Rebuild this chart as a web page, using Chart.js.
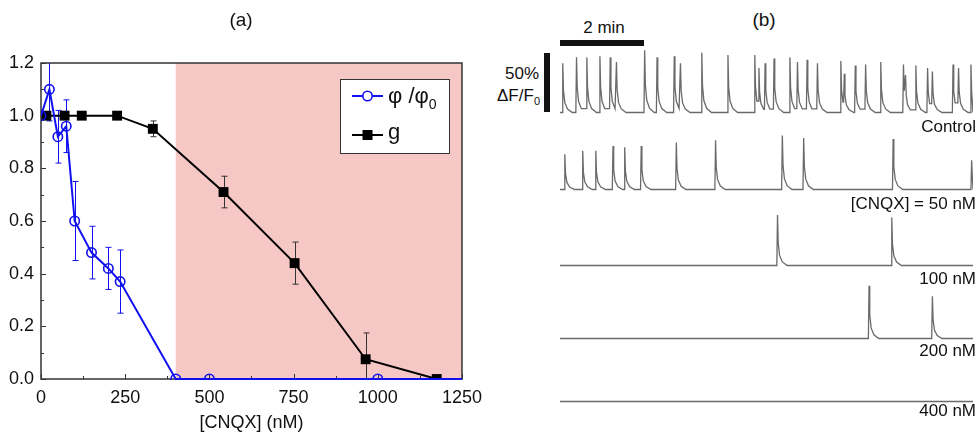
<!DOCTYPE html>
<html>
<head>
<meta charset="utf-8">
<title>CNQX dose response</title>
<script src="https://cdn.jsdelivr.net/npm/chart.js"></script>
<style>
    body {
        margin: 0;
        width: 980px;
        height: 436px;
        background: #fff;
        position: relative;
        overflow: hidden;
        font-family: "Liberation Sans", Arial, sans-serif;
        color: #111;
    }
    canvas { position: absolute; }
    .txt { position: absolute; line-height: 20px; white-space: nowrap; }
    .lbl { right: 4px; font-size: 17px; }
    .bar { position: absolute; background: #111; }
</style>
</head>
<body>
<canvas id="chartA" width="490" height="436" style="left:0;top:0"></canvas>

<div class="txt" style="left:221px;top:10px;width:40px;text-align:center;font-size:19px">(a)</div>
<div class="txt" style="left:744px;top:10px;width:40px;text-align:center;font-size:19px">(b)</div>

<!-- scale bars for panel b -->
<div class="txt" style="left:564px;top:18px;width:80px;text-align:center;font-size:17px">2 min</div>
<div class="bar" style="left:560px;top:40px;width:84px;height:6px"></div>
<div class="bar" style="left:544px;top:53px;width:6px;height:59px"></div>
<div class="txt" style="right:441px;top:64px;font-size:17px">50%</div>
<div class="txt" style="right:440px;top:86px;font-size:17px">ΔF/F<span style="font-size:11px;position:relative;top:4px">0</span></div>

<canvas id="tr0" width="413" height="68" style="left:560px;top:48px"></canvas>
<canvas id="tr1" width="413" height="68" style="left:560px;top:125px"></canvas>
<canvas id="tr2" width="413" height="68" style="left:560px;top:201px"></canvas>
<canvas id="tr3" width="413" height="68" style="left:560px;top:274px"></canvas>
<canvas id="tr4" width="413" height="68" style="left:560px;top:337px"></canvas>

<div class="txt lbl" style="top:117px">Control</div>
<div class="txt lbl" style="top:194px">[CNQX] = 50 nM</div>
<div class="txt lbl" style="top:269px">100 nM</div>
<div class="txt lbl" style="top:341px">200 nM</div>
<div class="txt lbl" style="top:401px">400 nM</div>

<script>
// ---- panel (a) data ----
const phiX   = [0, 25, 50, 75, 100, 150, 200, 235, 400, 500, 1000, 1250];
const phiY   = [1.0, 1.1, 0.92, 0.96, 0.60, 0.48, 0.42, 0.37, 0, 0, 0, 0];
const phiErr = [0, 0.12, 0.1, 0.1, 0.15, 0.1, 0.08, 0.12, 0, 0, 0, 0];
const phiShow = [1, 1, 1, 1, 1, 1, 1, 1, 1, 1, 1, 0];

const gX   = [16, 70, 121, 226, 332, 542, 753, 964, 1175];
const gY   = [1.0, 1.0, 1.0, 1.0, 0.95, 0.71, 0.44, 0.075, 0.0];
const gErr = [0, 0, 0, 0, 0.03, 0.06, 0.08, 0.1, 0];

const xTicks = [0, 250, 500, 750, 1000, 1250];
const xMinor = [125, 375, 625, 875, 1125];
const yTicks = [0, 0.2, 0.4, 0.6, 0.8, 1.0, 1.2];
const yMinor = [0.1, 0.3, 0.5, 0.7, 0.9, 1.1];
const shadeFrom = 400;
const shadeTo = 1250;

// ---- panel (b) data: spike onset times (s) and peak amplitudes (% dF/F0) ----
const controlT = [3, 23, 38, 57, 72, 81, 122, 140, 165, 174, 205, 243, 282, 288, 297, 310, 333, 344, 358, 373,
                  407, 412, 428, 443, 465, 498, 501, 516, 533, 540, 570, 578, 596];
const controlA = [42, 47, 47, 48, 47, 43, 53, 47, 48, 42, 51, 49, 49, 38, 42, 46, 47, 43, 45, 42,
                  44, 33, 40, 41, 43, 41, 32, 40, 38, 35, 41, 38, 41];
const cnqx50T = [6, 32, 51, 76, 93, 117, 168, 225, 322, 353, 483, 597];
const cnqx50A = [30, 33, 33, 37, 36, 37, 40, 42, 46, 44, 43, 25];
const cnqx100T = [315, 481];
const cnqx100A = [43, 41];
const cnqx200T = [448, 540];
const cnqx200A = [45, 36];
const cnqx400T = [];
const cnqx400A = [];

const FONT = '"Liberation Sans", Arial, sans-serif';
const BLUE = '#1010f0';

function drawErr(ctx, x, y, xs, ys, errs, color) {
    ctx.strokeStyle = color;
    ctx.lineWidth = 1;
    xs.forEach((v, i) => {
        if (!errs[i]) return;
        const px = Math.round(x.getPixelForValue(v)) + 0.5;
        const top = y.getPixelForValue(ys[i] + errs[i]);
        const bot = y.getPixelForValue(ys[i] - errs[i]);
        ctx.beginPath();
        ctx.moveTo(px, top); ctx.lineTo(px, bot);
        ctx.moveTo(px - 3, top); ctx.lineTo(px + 3, top);
        ctx.moveTo(px - 3, bot); ctx.lineTo(px + 3, bot);
        ctx.stroke();
    });
}

const panelA = {
    id: 'panelA',
    beforeDatasetsDraw(chart) {
        const { ctx, chartArea: a, scales: { x, y } } = chart;
        ctx.save();
        const x0 = x.getPixelForValue(shadeFrom), x1 = x.getPixelForValue(shadeTo);
        ctx.fillStyle = '#f5c8c5';
        ctx.fillRect(x0, a.top, x1 - x0, a.bottom - a.top);

        // frame
        ctx.strokeStyle = '#333';
        ctx.lineWidth = 1.5;
        ctx.strokeRect(a.left, a.top, a.right - a.left, a.bottom - a.top);
        // inward ticks
        ctx.lineWidth = 1;
        ctx.beginPath();
        xTicks.concat(xMinor).forEach(v => {
            const px = Math.round(x.getPixelForValue(v)) + 0.5;
            const len = xMinor.includes(v) ? 3 : 5;
            ctx.moveTo(px, a.bottom); ctx.lineTo(px, a.bottom - len);
        });
        yTicks.concat(yMinor).forEach(v => {
            const py = Math.round(y.getPixelForValue(v)) + 0.5;
            const len = yMinor.includes(v) ? 3 : 5;
            ctx.moveTo(a.left, py); ctx.lineTo(a.left + len, py);
        });
        ctx.stroke();

        ctx.beginPath();
        ctx.rect(a.left, a.top, a.right - a.left, a.bottom - a.top);
        ctx.clip();
        drawErr(ctx, x, y, gX, gY, gErr, '#333');
        drawErr(ctx, x, y, phiX, phiY, phiErr, BLUE);
        ctx.restore();
    },
    afterDatasetsDraw(chart) {
        const { ctx } = chart;
        ctx.save();
        // legend
        const bx = 340, by = 79, bw = 109, bh = 74;
        ctx.fillStyle = '#fff';
        ctx.fillRect(bx, by, bw, bh);
        ctx.strokeStyle = '#333';
        ctx.lineWidth = 1;
        ctx.strokeRect(bx + 0.5, by + 0.5, bw, bh);

        ctx.lineWidth = 2;
        ctx.strokeStyle = BLUE;
        ctx.beginPath(); ctx.moveTo(352, 96); ctx.lineTo(383, 96); ctx.stroke();
        ctx.fillStyle = '#fff';
        ctx.lineWidth = 1.6;
        ctx.beginPath(); ctx.arc(367.5, 96, 4.7, 0, Math.PI * 2); ctx.fill(); ctx.stroke();

        ctx.strokeStyle = '#000';
        ctx.lineWidth = 2;
        ctx.beginPath(); ctx.moveTo(352, 135); ctx.lineTo(383, 135); ctx.stroke();
        ctx.fillStyle = '#000';
        ctx.fillRect(362.5, 130, 10, 10);

        ctx.fillStyle = '#111';
        ctx.textBaseline = 'alphabetic';
        ctx.font = '22px ' + FONT;
        ctx.fillText('φ /φ', 388, 103);
        const w = ctx.measureText('φ /φ').width;
        ctx.font = '14px ' + FONT;
        ctx.fillText('0', 388 + w, 109);
        ctx.font = '22px ' + FONT;
        ctx.fillText('g', 388, 139);
        ctx.restore();
    }
};

new Chart(document.getElementById('chartA'), {
    type: 'line',
    data: {
        datasets: [
            {
                label: 'φ /φ0',
                data: phiX.map((v, i) => ({ x: v, y: phiY[i] })),
                borderColor: BLUE,
                borderWidth: 2,
                pointStyle: 'circle',
                pointRadius: phiShow.map(s => s ? 4.7 : 0),
                pointBorderWidth: 1.6,
                pointBorderColor: BLUE,
                pointBackgroundColor: 'rgba(255,255,255,0)',
                tension: 0,
                clip: { left: 0, top: 0, right: 0, bottom: 1 }
            },
            {
                label: 'g',
                data: gX.map((v, i) => ({ x: v, y: gY[i] })),
                borderColor: '#000',
                borderWidth: 2,
                pointStyle: 'rect',
                pointRadius: 7,
                pointBorderWidth: 0,
                pointBackgroundColor: '#000',
                tension: 0,
                clip: { left: 0, top: 0, right: 0, bottom: 1 }
            }
        ]
    },
    options: {
        responsive: false,
        animation: false,
        events: [],
        layout: { padding: { left: 0, top: 63, right: 28, bottom: 0 } },
        plugins: { legend: { display: false }, tooltip: { enabled: false } },
        scales: {
            x: {
                type: 'linear', min: 0, max: 1250,
                afterBuildTicks: s => { s.ticks = xTicks.map(v => ({ value: v })); },
                afterFit: s => { s.height = 57; },
                ticks: { font: { size: 18, family: FONT }, color: '#111', padding: 8, maxRotation: 0, callback: v => String(v) },
                grid: { display: false, drawTicks: false },
                border: { display: false },
                title: { display: true, text: '[CNQX] (nM)', font: { size: 18, family: FONT }, color: '#111', padding: { top: 0, bottom: 2 } }
            },
            y: {
                min: 0, max: 1.2,
                afterBuildTicks: s => { s.ticks = yTicks.map(v => ({ value: v })); },
                afterFit: s => { s.width = 41; },
                ticks: { font: { size: 18, family: FONT }, color: '#111', padding: 7, callback: v => v.toFixed(1) },
                grid: { display: false, drawTicks: false },
                border: { display: false }
            }
        }
    },
    plugins: [panelA]
});

// ---- panel (b) traces ----
const spikeShape = [[1, 1], [2, 0.45], [4, 0.2], [8, 0.07], [15, 0]];

function buildTrace(times, amps) {
    const pts = [{ x: 0, y: 0 }];
    times.forEach((t, i) => {
        const next = i + 1 < times.length ? times[i + 1] : 600;
        const last = pts[pts.length - 1];
        if (t > last.x) pts.push({ x: t, y: last.y });
        spikeShape.forEach(([dt, f]) => {
            if (t + dt < next) pts.push({ x: t + dt, y: amps[i] * f });
        });
    });
    pts.push({ x: 600, y: 0 });
    return pts;
}

const traces = [
    [controlT, controlA], [cnqx50T, cnqx50A], [cnqx100T, cnqx100A], [cnqx200T, cnqx200A], [cnqx400T, cnqx400A]
];

traces.forEach(([t, a], i) => {
    new Chart(document.getElementById('tr' + i), {
        type: 'line',
        data: {
            datasets: [{
                data: buildTrace(t, a),
                borderColor: '#6a6a6a',
                borderWidth: 1.3,
                pointRadius: 0,
                tension: 0,
                clip: false
            }]
        },
        options: {
            responsive: false,
            animation: false,
            events: [],
            layout: { padding: 0 },
            plugins: { legend: { display: false }, tooltip: { enabled: false } },
            scales: {
                x: { type: 'linear', min: 0, max: 600, display: false },
                y: { min: -3, max: 55, display: false }
            }
        }
    });
});
</script>
</body>
</html>
